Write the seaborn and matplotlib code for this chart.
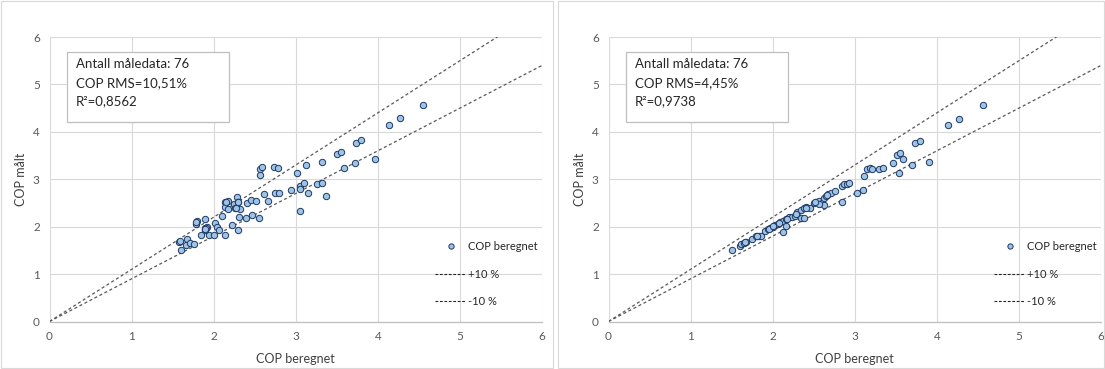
import numpy as np
import pandas as pd
import matplotlib
matplotlib.use("Agg")
import matplotlib.pyplot as plt
from matplotlib.patches import Rectangle
from matplotlib.lines import Line2D
import seaborn as sns

# ---------------- data ----------------
left_x = [1.58, 1.68, 1.66, 1.71, 1.76, 1.60, 1.78, 1.80, 1.90, 1.90, 1.92, 1.90, 1.85, 1.94,
          2.00, 2.02, 2.04, 2.07, 2.14, 2.10, 2.14, 2.18, 2.14, 2.18, 2.25, 2.29, 2.30, 2.26,
          2.32, 2.31, 2.22, 2.30, 2.41, 2.45, 2.52, 2.39, 2.47, 2.55, 2.61, 2.66, 2.56, 2.59,
          2.56, 2.73, 2.78, 2.75, 2.79, 2.94, 3.01, 3.12, 3.05, 3.05, 3.10, 3.15, 3.05, 3.26,
          3.32, 3.37, 3.32, 3.50, 3.55, 3.59, 3.72, 3.74, 3.80, 3.96, 4.13, 4.27, 4.55, 1.59,
          1.79, 1.91, 2.15, 2.27, 1.89, 2.30]
left_y = [1.68, 1.75, 1.61, 1.65, 1.63, 1.51, 2.06, 2.11, 2.17, 1.97, 1.99, 1.93, 1.82, 1.82,
          1.82, 2.08, 2.00, 1.92, 1.82, 2.23, 2.52, 2.54, 2.42, 2.37, 2.47, 2.63, 2.52, 2.39,
          2.38, 2.21, 2.03, 1.92, 2.49, 2.56, 2.54, 2.18, 2.25, 2.19, 2.68, 2.54, 3.22, 3.25,
          3.08, 3.25, 3.23, 2.71, 2.71, 2.78, 3.14, 3.30, 2.86, 2.79, 2.92, 2.70, 2.32, 2.90,
          2.93, 2.65, 3.36, 3.53, 3.57, 3.24, 3.35, 3.77, 3.83, 3.43, 4.15, 4.29, 4.57, 1.70,
          2.09, 1.98, 2.51, 2.40, 1.95, 2.53]

right_x = [1.50, 1.60, 1.62, 1.65, 1.68, 1.75, 1.80, 1.83, 1.86, 1.91, 1.94, 1.97, 2.00, 2.03,
           2.07, 2.09, 2.13, 2.16, 2.13, 2.16, 2.20, 2.24, 2.27, 2.30, 2.35, 2.38, 2.41, 2.45,
           2.35, 2.38, 2.50, 2.53, 2.56, 2.60, 2.62, 2.57, 2.62, 2.65, 2.68, 2.71, 2.76, 2.84,
           2.84, 2.87, 2.90, 2.93, 3.03, 3.10, 3.11, 3.15, 3.18, 3.21, 3.29, 3.34, 3.47, 3.54,
           3.51, 3.55, 3.59, 3.70, 3.74, 3.80, 3.90, 4.13, 4.27, 4.56, 1.66, 1.81, 1.95, 2.01,
           2.08, 2.17, 2.28, 2.40, 2.51, 2.66]
right_y = [1.50, 1.60, 1.63, 1.66, 1.68, 1.74, 1.80, 1.80, 1.80, 1.91, 1.95, 1.98, 2.00, 2.04,
           2.06, 2.09, 2.11, 2.16, 1.89, 2.01, 2.20, 2.21, 2.23, 2.30, 2.35, 2.39, 2.42, 2.40,
           2.18, 2.18, 2.50, 2.53, 2.54, 2.50, 2.46, 2.48, 2.61, 2.65, 2.68, 2.70, 2.76, 2.53,
           2.86, 2.89, 2.91, 2.93, 2.70, 2.77, 3.07, 3.21, 3.24, 3.22, 3.21, 3.24, 3.34, 3.13,
           3.51, 3.56, 3.42, 3.30, 3.76, 3.81, 3.36, 4.14, 4.28, 4.57, 1.67, 1.80, 1.96, 2.02,
           2.08, 2.17, 2.27, 2.40, 2.51, 2.66]

axis_ticks = [0, 1, 2, 3, 4, 5, 6]
band_factors = [1.1, 0.9]
band_labels = ["+10 %", "-10 %"]
series_label = "COP beregnet"
x_label = "COP beregnet"
y_label = "COP målt"
box_texts = [
    ["Antall måledata: 76", "COP RMS=10,51%", "R²=0,8562"],
    ["Antall måledata: 76", "COP RMS=4,45%", "R²=0,9738"],
]

# ---------------- style ----------------
sns.set_theme(style="white")
plt.rcParams["font.family"] = ["Lato", "DejaVu Sans"]

W, H = 1105, 369
fig = plt.figure(figsize=(W / 100, H / 100), dpi=100)

grid_c = "#d9d9d9"
txt_c = "#595959"
pt_face = "#9dc3e6"
pt_edge = "#1f3864"
line_c = "#595959"

# chart frames
for (x0, x1) in [(1, 553), (558, 1104)]:
    fig.patches.append(Rectangle((x0 / W, 1 / H), (x1 - x0) / W, (H - 2) / H,
                                 transform=fig.transFigure, fill=False,
                                 edgecolor="#d9d9d9", linewidth=0.8))

ax_w = 492.5 / W
ax_h = 284.5 / H
ax_b = (H - 321.5) / H
lefts = [49.5 / W, 608.5 / W]

datasets = [(left_x, left_y), (right_x, right_y)]

for i, (xs, ys) in enumerate(datasets):
    ax = fig.add_axes([lefts[i], ax_b, ax_w, ax_h])
    df = pd.DataFrame({"x": xs, "y": ys})

    ax.set_xlim(0, 6)
    ax.set_ylim(0, 6)
    ax.set_xticks(axis_ticks)
    ax.set_yticks(axis_ticks)
    ax.grid(True, color=grid_c, linewidth=0.8)
    ax.set_axisbelow(True)
    for s in ["top", "right", "left"]:
        ax.spines[s].set_visible(False)
    ax.spines["bottom"].set_color("#bfbfbf")
    ax.spines["bottom"].set_linewidth(0.9)
    ax.tick_params(axis="both", length=0, colors=txt_c, labelsize=8.5, pad=7)

    # band lines
    for f in band_factors:
        lx = np.array([0.0, 6.0])
        ldf = pd.DataFrame({"x": lx, "y": lx * f})
        sns.lineplot(data=ldf, x="x", y="y", ax=ax, color=line_c,
                     linewidth=0.9, linestyle=(0, (2.5, 2)), zorder=2)

    sns.scatterplot(data=df, x="x", y="y", ax=ax, s=21, color=pt_face,
                    edgecolor=pt_edge, linewidth=0.7, zorder=3, legend=False)

    ax.set_xlabel(x_label, color="#404040", fontsize=9, labelpad=8)
    ax.set_ylabel(y_label, color="#404040", fontsize=9, labelpad=4)

    # info box
    box = Rectangle((0.036, 0.700), 0.3285, 0.248, transform=ax.transAxes,
                    facecolor="white", edgecolor="#bfbfbf", linewidth=0.9, zorder=4)
    ax.add_patch(box)
    for j, (t, yy) in enumerate(zip(box_texts[i], [0.904, 0.837, 0.776])):
        ax.text(0.054, yy, t, transform=ax.transAxes, fontsize=9.5,
                color="#262626", va="center", ha="left", zorder=5)

    # legend
    handles = [Line2D([], [], linestyle="none", marker="o", markersize=3.8,
                      markerfacecolor=pt_face, markeredgecolor=pt_edge,
                      markeredgewidth=0.7)]
    for _ in band_labels:
        handles.append(Line2D([], [], color="#262626", linewidth=0.8,
                              linestyle=(0, (2.5, 1.5))))
    leg = ax.legend(handles, [series_label] + band_labels, loc="upper left",
                    bbox_to_anchor=(0.783, 0.283), frameon=False, fontsize=8,
                    handlelength=2.8, handletextpad=0.2, labelspacing=1.5,
                    borderpad=0, borderaxespad=0)
    for t in leg.get_texts():
        t.set_color("#262626")

fig.savefig("out.png", dpi=100)
